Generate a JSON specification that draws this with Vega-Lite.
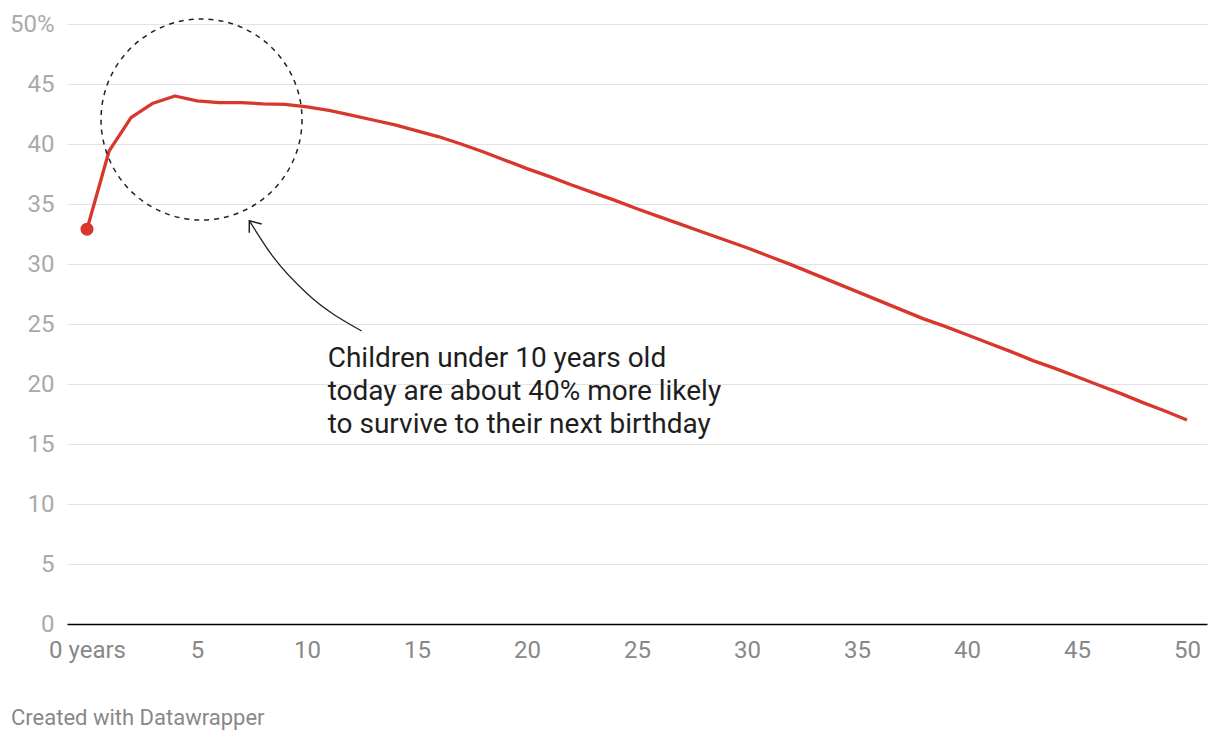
{
  "$schema": "https://vega.github.io/schema/vega-lite/v6.json",
  "width": 1140,
  "height": 600,
  "autosize": {"type": "none"},
  "padding": {"left": 67, "top": 24, "right": 13, "bottom": 116},
  "background": "#ffffff",
  "config": {
    "view": {"stroke": null},
    "font": "Roboto",
    "axis": {"labelFont": "Roboto", "title": null}
  },
  "title": {
    "text": "Created with Datawrapper",
    "orient": "bottom",
    "anchor": "start",
    "frame": "group",
    "dx": -56,
    "offset": 46,
    "fontSize": 22,
    "fontWeight": "normal",
    "font": "Roboto",
    "color": "#888888",
    "baseline": "top"
  },
  "datasets": {
    "series": [
      {"age": 0, "pct": 32.9}, {"age": 1, "pct": 39.4}, {"age": 2, "pct": 42.2},
      {"age": 3, "pct": 43.4}, {"age": 4, "pct": 44.0}, {"age": 5, "pct": 43.6},
      {"age": 6, "pct": 43.45}, {"age": 7, "pct": 43.45}, {"age": 8, "pct": 43.35},
      {"age": 9, "pct": 43.3}, {"age": 10, "pct": 43.1}, {"age": 11, "pct": 42.8},
      {"age": 12, "pct": 42.4}, {"age": 13, "pct": 42.0}, {"age": 14, "pct": 41.6},
      {"age": 15, "pct": 41.1}, {"age": 16, "pct": 40.6}, {"age": 17, "pct": 40.0},
      {"age": 18, "pct": 39.35}, {"age": 19, "pct": 38.65}, {"age": 20, "pct": 37.95},
      {"age": 21, "pct": 37.3}, {"age": 22, "pct": 36.6}, {"age": 23, "pct": 35.95},
      {"age": 24, "pct": 35.3}, {"age": 25, "pct": 34.6}, {"age": 26, "pct": 33.95},
      {"age": 27, "pct": 33.3}, {"age": 28, "pct": 32.65}, {"age": 29, "pct": 32.0},
      {"age": 30, "pct": 31.35}, {"age": 31, "pct": 30.65}, {"age": 32, "pct": 29.95},
      {"age": 33, "pct": 29.2}, {"age": 34, "pct": 28.45}, {"age": 35, "pct": 27.7},
      {"age": 36, "pct": 26.95}, {"age": 37, "pct": 26.2}, {"age": 38, "pct": 25.45},
      {"age": 39, "pct": 24.8}, {"age": 40, "pct": 24.1}, {"age": 41, "pct": 23.4},
      {"age": 42, "pct": 22.7}, {"age": 43, "pct": 21.95}, {"age": 44, "pct": 21.3},
      {"age": 45, "pct": 20.6}, {"age": 46, "pct": 19.9}, {"age": 47, "pct": 19.2},
      {"age": 48, "pct": 18.45}, {"age": 49, "pct": 17.75}, {"age": 50, "pct": 17.0}
    ],
    "circle": [{"age": 5.205, "pct": 42.04}],
    "curve": [
      {"age": 7.377, "pct": 33.61, "o": 1},
      {"age": 8.455, "pct": 30.61, "o": 2},
      {"age": 9.986, "pct": 27.56, "o": 3},
      {"age": 12.486, "pct": 24.42, "o": 4}
    ],
    "head": [
      {"age": 7.941, "pct": 33.33, "o": 1},
      {"age": 7.377, "pct": 33.61, "o": 2},
      {"age": 7.377, "pct": 32.61, "o": 3}
    ],
    "note": [
      {"age": 10.94, "pct": 21.44, "t": "Children under 10 years old"},
      {"age": 10.94, "pct": 18.67, "t": "today are about 40% more likely"},
      {"age": 10.94, "pct": 15.89, "t": "to survive to their next birthday"}
    ]
  },
  "encoding": {
    "x": {
      "field": "age",
      "type": "quantitative",
      "scale": {"domain": [-0.9091, 50.9091], "nice": false, "zero": false},
      "axis": {
        "values": [0, 5, 10, 15, 20, 25, 30, 35, 40, 45, 50],
        "labelExpr": "datum.value == 0 ? '0 years' : datum.label",
        "grid": false,
        "ticks": false,
        "domainColor": "#000000",
        "domainWidth": 1.5,
        "labelFontSize": 24,
        "labelColor": "#888888",
        "labelPadding": 14
      }
    },
    "y": {
      "field": "pct",
      "type": "quantitative",
      "scale": {"domain": [0, 50], "nice": false},
      "axis": {
        "values": [0, 5, 10, 15, 20, 25, 30, 35, 40, 45, 50],
        "labelExpr": "datum.value == 50 ? '50%' : datum.label",
        "grid": true,
        "gridColor": "#e3e3e3",
        "gridWidth": 1,
        "domain": false,
        "ticks": false,
        "labelFontSize": 24,
        "labelColor": "#aaaaaa",
        "labelPadding": 13,
        "labelBaseline": "middle"
      }
    }
  },
  "layer": [
    {
      "data": {"name": "series"},
      "mark": {"type": "line", "color": "#d7372c", "strokeWidth": 3.3, "strokeJoin": "round"}
    },
    {
      "data": {"name": "series"},
      "transform": [{"filter": "datum.age == 0"}],
      "mark": {"type": "point", "shape": "circle", "filled": true, "color": "#d7372c", "size": 170, "opacity": 1}
    },
    {
      "data": {"name": "circle"},
      "mark": {"type": "point", "shape": "circle", "filled": false, "stroke": "#222222", "strokeWidth": 1.5, "strokeDash": [5, 5], "size": 40400, "opacity": 1}
    },
    {
      "data": {"name": "curve"},
      "mark": {"type": "line", "color": "#222222", "strokeWidth": 1.3, "interpolate": "monotone"},
      "encoding": {"order": {"field": "o", "type": "quantitative"}}
    },
    {
      "data": {"name": "head"},
      "mark": {"type": "line", "color": "#222222", "strokeWidth": 1.5},
      "encoding": {"order": {"field": "o", "type": "quantitative"}}
    },
    {
      "data": {"name": "note"},
      "mark": {"type": "text", "align": "left", "baseline": "alphabetic", "fontSize": 28, "font": "Roboto", "color": "#1e1e1e"},
      "encoding": {"text": {"field": "t"}}
    }
  ]
}
